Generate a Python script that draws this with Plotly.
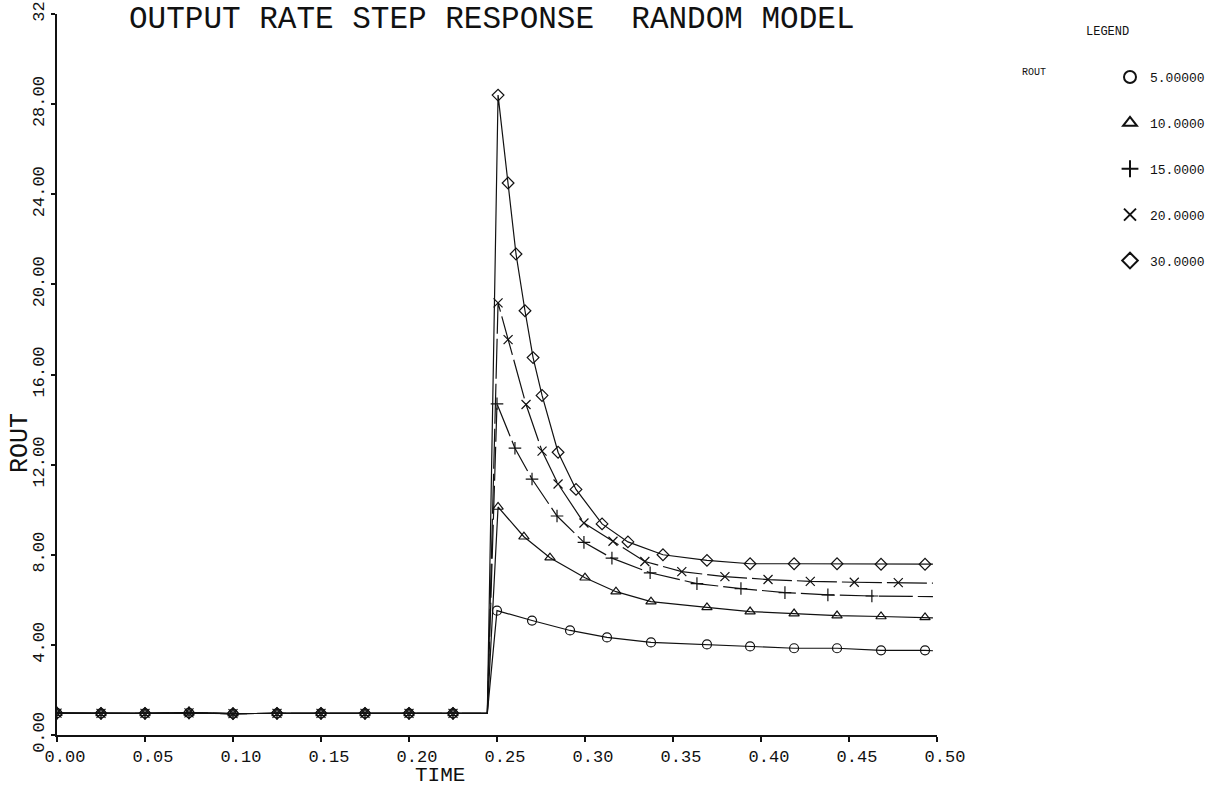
import plotly.graph_objects as go

# ---------------- data ----------------
x_ticks = [0.00, 0.05, 0.10, 0.15, 0.20, 0.25, 0.30, 0.35, 0.40, 0.45, 0.50]
x_tick_text = ["0.00", "0.05", "0.10", "0.15", "0.20", "0.25", "0.30", "0.35", "0.40", "0.45", "0.50"]
y_ticks = [0, 4, 8, 12, 16, 20, 24, 28, 32]
y_tick_text = ["0.00", "4.00", "8.00", "12.00", "16.00", "20.00", "24.00", "28.00", "32"]

# common pre-step part (all five runs coincide)
base_t = [0.0, 0.025, 0.05, 0.075, 0.10, 0.125, 0.15, 0.175, 0.20, 0.225]
base_v = [0.97, 0.96, 0.96, 0.98, 0.95, 0.96, 0.96, 0.96, 0.96, 0.96]
corner_t = 0.2445
corner_v = 0.96
end_t = 0.4977

series_names = ["5.00000", "10.0000", "15.0000", "20.0000", "30.0000"]

r5_t = [0.2500, 0.2699, 0.2915, 0.3125, 0.3375, 0.3693, 0.3938, 0.4188, 0.4432, 0.4682, 0.4932]
r5_v = [5.52, 5.08, 4.64, 4.33, 4.11, 4.02, 3.93, 3.85, 3.85, 3.76, 3.76]
r5_end = 3.74

r10_t = [0.2506, 0.2653, 0.2801, 0.3000, 0.3176, 0.3375, 0.3693, 0.3938, 0.4188, 0.4432, 0.4682, 0.4932]
r10_v = [10.12, 8.80, 7.87, 6.98, 6.36, 5.92, 5.66, 5.48, 5.39, 5.30, 5.26, 5.22]
r10_end = 5.20

r15_t = [0.2500, 0.2602, 0.2699, 0.2841, 0.2994, 0.3153, 0.3370, 0.3636, 0.3886, 0.4136, 0.4380, 0.4630]
r15_v = [14.70, 12.73, 11.36, 9.72, 8.55, 7.85, 7.20, 6.72, 6.50, 6.32, 6.22, 6.17]
r15_end = 6.14

r20_t = [0.2506, 0.2563, 0.2665, 0.2756, 0.2847, 0.2994, 0.3159, 0.3340, 0.3550, 0.3795, 0.4040, 0.4280, 0.4530, 0.4780]
r20_v = [19.18, 17.55, 14.67, 12.60, 11.14, 9.41, 8.60, 7.70, 7.25, 7.03, 6.90, 6.82, 6.78, 6.76]
r20_end = 6.74

r30_t = [0.2506, 0.2563, 0.2608, 0.2659, 0.2705, 0.2756, 0.2847, 0.2949, 0.3097, 0.3244, 0.3443, 0.3693,
         0.3938, 0.4188, 0.4432, 0.4682, 0.4932]
r30_v = [28.40, 24.50, 21.35, 18.83, 16.75, 15.07, 12.55, 10.90, 9.37, 8.57, 8.00, 7.75,
         7.60, 7.60, 7.60, 7.58, 7.58]
r30_end = 7.58

# ---------------- figure ----------------
FONT = "Liberation Mono"
INK = "#111111"

runs = [
    (series_names[0], r5_t, r5_v, r5_end, "circle-open", "solid"),
    (series_names[1], r10_t, r10_v, r10_end, "triangle-up-open", "solid"),
    (series_names[2], r15_t, r15_v, r15_end, "cross-thin-open", "34px,5px"),
    (series_names[3], r20_t, r20_v, r20_end, "x-thin-open", "40px,5px"),
    (series_names[4], r30_t, r30_v, r30_end, "diamond-open", "solid"),
]

fig = go.Figure()
for i, (name, ts, vs, vend, sym, dash) in enumerate(runs):
    line_t = base_t + [corner_t] + ts + [end_t]
    line_v = base_v + [corner_v] + vs + [vend]
    fig.add_trace(go.Scatter(
        x=line_t, y=line_v, mode="lines",
        line=dict(color=INK, width=1.2, dash=dash),
        showlegend=False, hoverinfo="skip",
    ))
    fig.add_trace(go.Scatter(
        x=base_t + ts, y=base_v + vs, mode="markers", name=name,
        legendgroup=name,
        marker=dict(symbol=sym, size=9, color=INK, line=dict(color=INK, width=1.2)),
    ))

L, R, T, B = 57, 275, 14, 54
W, H = 1212, 789
pw, ph = W - L - R, H - T - B


def px(xp):
    return (xp - L) / pw


def py(yp):
    return 1 - (yp - T) / ph


def label(text, x, y, size, angle=0):
    return dict(text=text, x=px(x), y=py(y), xref="paper", yref="paper",
                xanchor="center", yanchor="middle", showarrow=False, textangle=angle,
                font=dict(family=FONT, size=size, color=INK))


fig.update_layout(
    width=W, height=H,
    margin=dict(l=L, r=R, t=T, b=B, autoexpand=False),
    paper_bgcolor="white", plot_bgcolor="white",
    font=dict(family=FONT, color=INK),
    showlegend=True,
    legend=dict(
        x=px(1110), y=py(62), xanchor="left", yanchor="top",
        font=dict(family=FONT, size=13, color=INK),
        traceorder="grouped", tracegroupgap=26,
        bgcolor="rgba(0,0,0,0)", itemsizing="constant",
    ),
    annotations=[
        label("OUTPUT RATE STEP RESPONSE  RANDOM MODEL", 492, 20, 31),
        label("LEGEND", 1107, 32, 12),
        label("ROUT", 1034, 73, 10),
        label("TIME", 440, 775, 21),
        label("ROUT", 21, 443, 25, angle=-90),
    ],
)

fig.update_xaxes(
    range=[0, 0.5], tickvals=x_ticks, ticktext=x_tick_text,
    showgrid=False, zeroline=False, showline=True, linecolor=INK, linewidth=1.5,
    ticks="outside", ticklen=5, tickcolor=INK, tickwidth=1.5,
    tickfont=dict(family=FONT, size=17, color=INK), ticklabelshift=8,
    automargin=False,
)
fig.update_yaxes(
    range=[0, 32], tickvals=y_ticks, ticktext=y_tick_text, tickangle=-90,
    showgrid=False, zeroline=False, showline=True, linecolor=INK, linewidth=1.5,
    ticks="outside", ticklen=4, tickcolor=INK, tickwidth=1.5,
    tickfont=dict(family=FONT, size=17, color=INK), ticklabeloverflow="allow",
    automargin=False,
)

fig.write_html("out.html")
